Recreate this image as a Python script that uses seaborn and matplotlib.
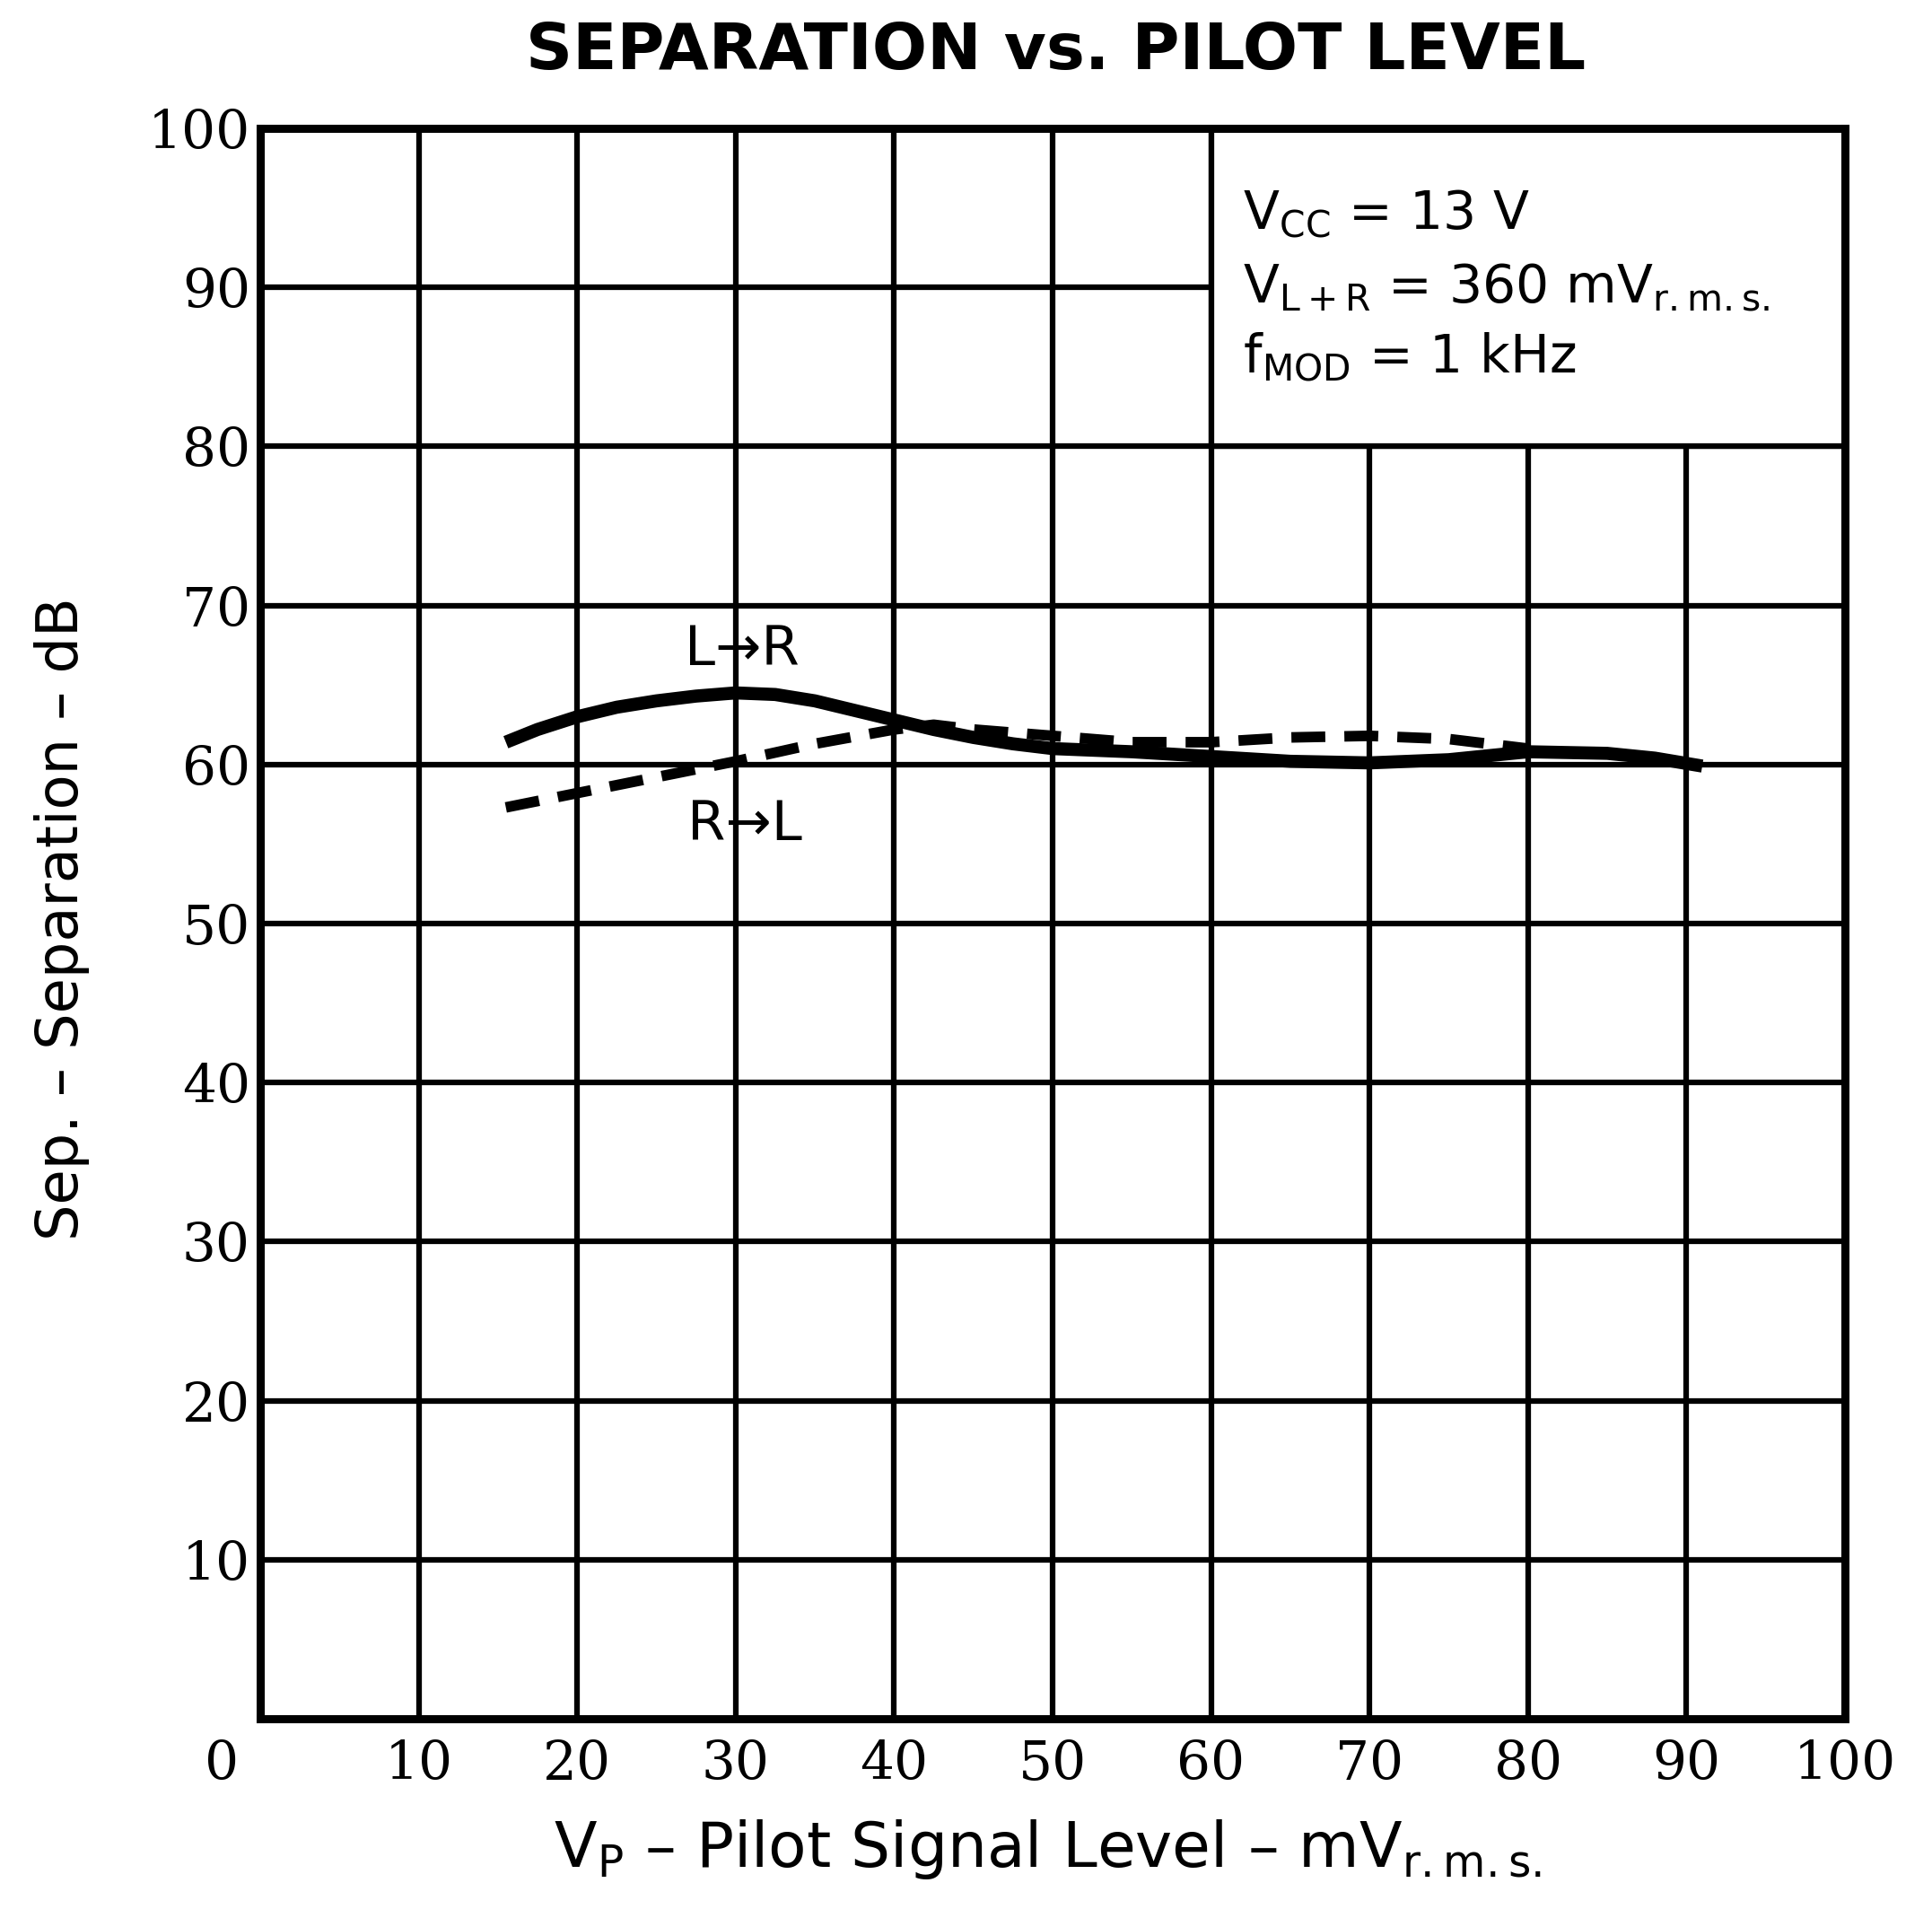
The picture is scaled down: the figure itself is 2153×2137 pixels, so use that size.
import matplotlib
matplotlib.use('Agg')
from matplotlib import pyplot as plt
from matplotlib.patches import Rectangle
from matplotlib.transforms import ScaledTranslation
import seaborn as sns
import pandas as pd

# values (x in mVrms, y in dB)
lr_x = [15.5, 17.5, 20, 22.5, 25, 27.5, 30, 32.5, 35, 37.5, 40, 42.5, 45, 47.5,
        50, 55, 60, 65, 70, 75, 80, 85, 88, 91]
lr_sep = [61.4, 62.2, 63.0, 63.6, 64.0, 64.3, 64.5, 64.4, 64.0, 63.4, 62.8, 62.2, 61.7, 61.3,
          61.0, 60.8, 60.5, 60.2, 60.1, 60.3, 60.8, 60.7, 60.4, 59.9]

rl_x = [15.5, 20, 25, 30, 35, 40, 42.5, 45, 50, 55, 60, 65, 70, 75, 80]
rl_sep = [57.3, 58.2, 59.2, 60.2, 61.3, 62.2, 62.5, 62.2, 61.8, 61.4, 61.4, 61.7, 61.8, 61.6, 61.0]

x_ticks = list(range(0, 101, 10))
y_ticks = list(range(10, 101, 10))

conditions = [r'$V_{CC}$ = 13 V',
              r'$V_{L + R}$ = 360 m$V_{r.m.s.}$',
              r'$f_{MOD}$ = 1 kHz']

sns.set_style('white')
plt.rcParams['font.family'] = ['DejaVu Sans']
plt.rcParams['mathtext.default'] = 'regular'
plt.rcParams['text.color'] = 'black'
plt.rcParams['axes.labelcolor'] = 'black'
plt.rcParams['xtick.color'] = 'black'
plt.rcParams['ytick.color'] = 'black'

GRID_LW = 4.5
fig = plt.figure(figsize=(21.53, 21.37), dpi=100)
ax = fig.add_axes([0.1347, 0.1039, 0.8202, 0.8292])

df_lr = pd.DataFrame({'x': lr_x, 'sep': lr_sep})
df_rl = pd.DataFrame({'x': rl_x, 'sep': rl_sep})
sns.lineplot(data=df_lr, x='x', y='sep', ax=ax, color='black', linewidth=10.5,
             solid_capstyle='butt', zorder=3)
sns.lineplot(data=df_rl, x='x', y='sep', ax=ax, color='black', linewidth=8.5,
             dashes=(3.2, 1.8), zorder=3)

ax.set_xlim(0, 100)
ax.set_ylim(0, 100)
ax.set_xticks(x_ticks)
ax.set_yticks(y_ticks)
ax.set_xticklabels([str(t) for t in x_ticks], family='DejaVu Serif', fontsize=43)
ax.set_yticklabels([str(t) for t in y_ticks], family='DejaVu Serif', fontsize=43)
ax.tick_params(axis='both', length=0)
ax.tick_params(axis='x', pad=16)
ax.tick_params(axis='y', pad=8)
# the origin label sits left of the corner in the original
lbl0 = ax.get_xticklabels()[0]
lbl0.set_transform(lbl0.get_transform() + ScaledTranslation(-0.43, 0, fig.dpi_scale_trans))

ax.grid(True, color='black', linewidth=GRID_LW)
ax.set_axisbelow(True)
for sp in ax.spines.values():
    sp.set_visible(True)
    sp.set_color('black')
    sp.set_linewidth(6.5)

# condition box, blanks the grid behind it
ax.add_patch(Rectangle((60, 80), 40, 20, facecolor='white', edgecolor='black',
                       linewidth=GRID_LW, zorder=1.5))
for txt, yb in zip(conditions, [93.7, 89.05, 84.65]):
    ax.text(62, yb, txt, fontsize=42, ha='left', va='baseline', zorder=4)

ax.text(30.4, 67.2, 'L→R', fontsize=44, ha='center', va='center', zorder=4)
ax.text(30.6, 56.15, 'R→L', fontsize=44, ha='center', va='center', zorder=4)

ax.set_title('SEPARATION vs. PILOT LEVEL', fontsize=52, fontweight='bold',
             x=0.502, y=1.0435, va='center')
ax.set_xlabel(r'$V_P$ – Pilot Signal Level – m$V_{r.m.s.}$', fontsize=50, va='center')
ax.xaxis.set_label_coords(0.497, -0.082)
ax.set_ylabel('Sep. – Separation – dB', fontsize=46, va='center')
ax.yaxis.set_label_coords(-0.125, 0.503)

fig.savefig('out.png', dpi=100, facecolor='white')
